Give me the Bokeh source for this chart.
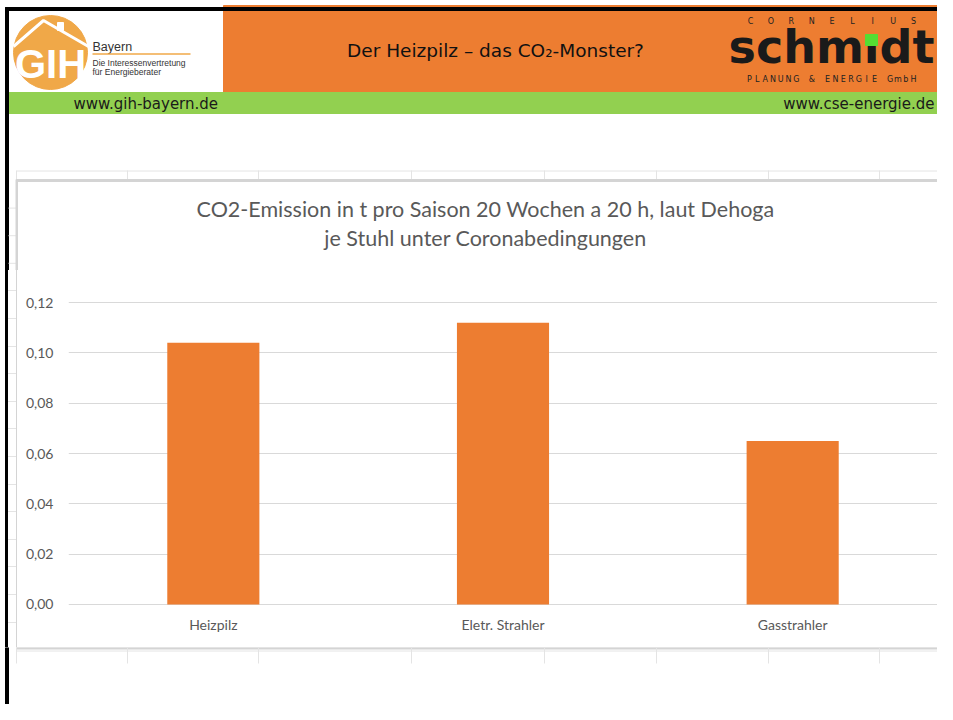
import numpy as np
from bokeh.plotting import figure
from bokeh.models import (Range1d, FactorRange, FixedTicker, CustomJSTickFormatter,
                          ColumnDataSource, Div)
from bokeh.layouts import column, row
from bokeh.core.properties import value
from bokeh.embed import file_html
from bokeh.resources import INLINE

# ---------------- data ----------------
categories = ["Heizpilz", "Eletr. Strahler", "Gasstrahler"]
emissions = [0.104, 0.112, 0.065]
y_ticks = [0.0, 0.02, 0.04, 0.06, 0.08, 0.10, 0.12]
chart_title_1 = "CO2-Emission in t pro Saison 20 Wochen a 20 h, laut Dehoga"
chart_title_2 = "je Stuhl unter Coronabedingungen"
slide_title = "Der Heizpilz \u2013 das CO\u2082-Monster?"
url_left = "www.gih-bayern.de"
url_right = "www.cse-energie.de"
gih_lines = ["Bayern", "Die Interessenvertretung", "f\u00fcr Energieberater"]
cse_top = "CORNELIUS"
cse_name = "schm\u0131dt"
cse_bottom = "PLANUNG & ENERGIE GmbH"

# ---------------- styles ----------------
ORANGE = "#ED7D31"
GIH_ORANGE = "#F0A848"
GREEN = "#92D050"
GRID = "#D9D9D9"
TXT = "#595959"
SHEET = "#E4E4E4"
BOX = "#D4D4D4"
CHART_FONT = "Lato"
HDR_FONT = "DejaVu Sans"
W = 937
sheet_cols = [16, 127, 258, 411, 544, 656, 768, 879]


def deco_fig(w, h, x0, x1, y_top, y_bot):
    f = figure(width=w, height=h, x_range=Range1d(x0, x1), y_range=Range1d(y_bot, y_top),
               output_backend="svg", toolbar_location=None, tools="", min_border=0,
               x_axis_location=None, y_axis_location=None, title=None)
    f.grid.visible = False
    f.outline_line_color = None
    f.background_fill_color = "white"
    f.border_fill_color = "white"
    return f


def left_edge(f, y0, y1, rows=()):
    f.quad(left=5, right=8, top=y0, bottom=y1, color="black")
    rows = list(rows)
    if rows:
        f.segment(x0=[8] * len(rows), y0=rows, x1=[15.5] * len(rows), y1=rows,
                  line_color=SHEET, line_width=1)


rows_y = [180 + 27.6 * k for k in range(1, 17)]

# ---------------- header (slide top + chart title) ----------------
hdr = deco_fig(W, 270, 0, W, 0, 270)
hdr.quad(left=223, right=W, top=5, bottom=92, color=ORANGE)
hdr.quad(left=8, right=W, top=92, bottom=113, color=GREEN)
hdr.quad(left=5, right=W, top=7, bottom=10, color="black")
left_edge(hdr, 7, 270, [r for r in rows_y if r < 270])

# GIH logo
hdr.circle(x=50, y=52, radius=37, color=GIH_ORANGE)
hdr.line([13, 43, 88], [46, 20, 46], line_color="white", line_width=3)
hdr.quad(left=57, right=63, top=22, bottom=30, color="white")
hdr.text(x=[50], y=[63], text=["GIH"], text_font=value("Liberation Sans"),
         text_font_style="bold", text_font_size="40px", text_color="white",
         text_align="center", text_baseline="middle")
hdr.text(x=[92], y=[46], text=[gih_lines[0]], text_font=value("Liberation Sans"),
         text_font_size="12.5px", text_color="#333333", text_baseline="middle")
hdr.line([92, 190], [53.5, 53.5], line_color=GIH_ORANGE, line_width=1.5)
hdr.text(x=[92, 92], y=[62, 71], text=gih_lines[1:], text_font=value("Liberation Sans"),
         text_font_size="8.5px", text_color="#333333", text_baseline="middle")

# slide title
hdr.text(x=[495], y=[50], text=[slide_title], text_font=value(HDR_FONT),
         text_font_size="18.5px", text_color="#111111", text_align="center",
         text_baseline="middle")

# CSE logo
hdr.text(x=list(np.linspace(750, 913, len(cse_top))), y=[21] * len(cse_top),
         text=list(cse_top), text_font=value(HDR_FONT), text_font_size="8px",
         text_color="#222222", text_align="center", text_baseline="middle")
hdr.text(x=[728], y=[46], text=[cse_name], text_font=value(HDR_FONT),
         text_font_style="bold", text_font_size="46px", text_color="#1a1a1a",
         text_align="left", text_baseline="middle")
hdr.quad(left=865, right=877, top=34, bottom=45, color="#55DD33")
hdr.text(x=list(np.linspace(749, 913, len(cse_bottom))), y=[79] * len(cse_bottom),
         text=list(cse_bottom), text_font=value(HDR_FONT), text_font_size="8px",
         text_color="#222222", text_align="center", text_baseline="middle")

# URLs
hdr.text(x=[73], y=[103], text=[url_left], text_font=value(HDR_FONT),
         text_font_size="15px", text_color="#1a1a1a", text_align="left",
         text_baseline="middle")
hdr.text(x=[934], y=[103], text=[url_right], text_font=value(HDR_FONT),
         text_font_size="15px", text_color="#1a1a1a", text_align="right",
         text_baseline="middle")

# sheet lines above the chart box, chart box top / left edges
hdr.segment(x0=[16], y0=[170.5], x1=[W], y1=[170.5], line_color=SHEET, line_width=1)
hdr.segment(x0=sheet_cols, y0=[170] * len(sheet_cols), x1=sheet_cols,
            y1=[180] * len(sheet_cols), line_color=SHEET, line_width=1)
hdr.quad(left=16, right=W, top=179, bottom=181, color=BOX)
hdr.quad(left=15.5, right=17, top=179, bottom=270, color=BOX)

# chart title (two lines)
hdr.text(x=[485, 485], y=[208, 237], text=[chart_title_1, chart_title_2],
         text_font=value(CHART_FONT), text_font_size="21.5px", text_color=TXT,
         text_align="center", text_baseline="middle")

# ---------------- left strip beside the plot (plain HTML lines) ----------------
strip_parts = ['<div style="position:relative;width:20px;height:377px;background:#fff;">',
               '<div style="position:absolute;left:5px;top:0;width:3px;height:377px;'
               'background:#000;"></div>',
               '<div style="position:absolute;left:15.5px;top:0;width:1.5px;height:377px;'
               'background:%s;"></div>' % BOX]
for r in rows_y:
    if r > 270:
        strip_parts.append('<div style="position:absolute;left:8px;top:%.1fpx;width:7.5px;'
                           'height:1px;background:%s;"></div>' % (r - 270, SHEET))
strip_parts.append('</div>')
strip = Div(text="".join(strip_parts), width=20, height=377, margin=0)

# ---------------- chart ----------------
src = ColumnDataSource(dict(cat=categories, val=emissions))
p = figure(width=W - 20, height=377, x_range=FactorRange(factors=categories),
           y_range=Range1d(-0.0004, 0.1204), output_backend="svg",
           toolbar_location=None, tools="", title=None,
           min_border_left=48, min_border_right=0, min_border_top=31,
           min_border_bottom=42)
p.vbar(x="cat", top="val", width=0.318, source=src, fill_color=ORANGE,
       line_color=None)

p.yaxis.ticker = FixedTicker(ticks=y_ticks)
p.yaxis.formatter = CustomJSTickFormatter(code="return tick.toFixed(2).replace('.', ',');")
for ax in (p.xaxis, p.yaxis):
    ax.axis_line_color = None
    ax.major_tick_line_color = None
    ax.minor_tick_line_color = None
    ax.major_tick_out = 0
    ax.major_tick_in = 0
    ax.minor_tick_out = 0
    ax.minor_tick_in = 0
    ax.major_label_text_font = CHART_FONT
    ax.major_label_text_font_size = "14px"
    ax.major_label_text_color = TXT
p.yaxis.major_label_standoff = 15
p.xaxis.major_label_standoff = 10
p.xgrid.grid_line_color = None
p.ygrid.grid_line_color = GRID
p.ygrid.grid_line_width = 1
p.outline_line_color = None
p.background_fill_color = "white"
p.border_fill_color = "white"

# ---------------- bottom ----------------
bot = deco_fig(W, 57, 0, W, 647, 704)
left_edge(bot, 647, 704)
bot.quad(left=16, right=W, top=647, bottom=648.5, color=BOX)
bot.segment(x0=[16], y0=[650.5], x1=[W], y1=[650.5], line_color=SHEET, line_width=1)
bot.segment(x0=sheet_cols, y0=[647] * len(sheet_cols), x1=sheet_cols,
            y1=[663] * len(sheet_cols), line_color=SHEET, line_width=1)

layout = column(hdr, row(strip, p), bot)
open("out.html", "w").write(file_html(layout, INLINE))
